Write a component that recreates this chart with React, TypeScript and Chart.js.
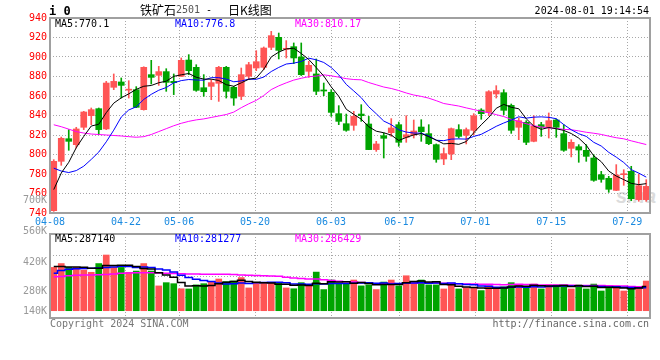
import React, { useEffect, useRef } from 'react';
import { Chart, registerables } from 'chart.js';
Chart.register(...registerables);

// ---------- data ----------
const tickIndex = [0, 10, 17, 27, 37, 46, 56, 66, 76];
const tickLabels = ['04-08', '04-22', '05-06', '05-20', '06-03', '06-17', '07-01', '07-15', '07-29'];
const priceTicks = [740, 760, 780, 800, 820, 840, 860, 880, 900, 920, 940];

const open = [742.4, 793.0, 816.2, 810.1, 827.9, 839.8, 847.0, 826.2, 868.9, 874.4,
  866.0, 866.5, 846.0, 881.9, 881.2, 885.0, 875.0, 880.2, 896.9, 889.4,
  868.5, 869.9, 873.0, 889.4, 868.9, 859.7, 880.2, 888.7, 889.4, 909.9,
  920.2, 907.9, 910.6, 900.0, 885.3, 882.6, 866.2, 863.8, 841.9, 831.6,
  829.9, 841.5, 831.3, 805.0, 819.3, 822.4, 830.6, 817.6, 820.0, 828.2,
  821.4, 810.1, 795.4, 800.5, 825.5, 819.7, 824.8, 845.6, 843.2, 862.1,
  863.4, 850.4, 827.9, 833.0, 813.5, 830.6, 827.9, 835.4, 821.4, 806.3,
  808.0, 804.3, 796.4, 779.3, 775.6, 763.2, 779.3, 782.7, 753.7, 753.7];
const high = [794.7, 817.9, 825.5, 827.9, 844.3, 847.7, 847.7, 875.0, 882.6, 878.5,
  875.7, 869.6, 890.0, 896.6, 890.4, 888.0, 882.6, 899.0, 902.4, 892.1,
  881.9, 876.8, 890.4, 890.4, 869.9, 888.7, 894.5, 906.5, 910.3, 926.3,
  924.6, 916.8, 914.4, 914.4, 895.6, 898.0, 873.3, 866.5, 850.1, 841.5,
  844.3, 851.1, 839.1, 813.5, 822.1, 836.8, 833.3, 839.8, 835.4, 835.7,
  830.6, 810.8, 806.7, 827.2, 830.6, 827.2, 841.9, 847.0, 865.5, 870.6,
  866.5, 851.8, 837.4, 834.7, 839.8, 833.0, 842.6, 836.4, 830.6, 815.2,
  810.1, 810.1, 799.8, 782.7, 777.6, 789.6, 784.4, 787.9, 780.0, 774.2];
const low = [741.7, 788.9, 804.3, 806.7, 825.5, 830.6, 820.3, 825.5, 866.5, 857.9,
  857.9, 848.0, 845.5, 872.3, 870.9, 864.8, 861.4, 880.0, 881.9, 864.8,
  859.7, 856.2, 854.5, 857.9, 850.4, 856.2, 876.8, 886.0, 887.0, 907.5,
  898.0, 899.0, 893.2, 881.0, 879.1, 861.4, 860.3, 839.1, 830.6, 823.8,
  824.8, 834.0, 805.0, 803.2, 796.4, 818.6, 808.4, 812.5, 816.9, 813.5,
  810.1, 792.0, 789.6, 794.7, 816.9, 810.8, 820.3, 836.1, 839.8, 857.9,
  840.9, 821.7, 815.2, 810.1, 813.0, 818.6, 816.9, 817.6, 803.2, 797.5,
  792.0, 793.0, 772.5, 771.5, 761.2, 763.0, 768.4, 752.6, 752.0, 752.0];
const close = [793.0, 816.6, 813.5, 826.2, 843.6, 846.0, 825.5, 873.3, 875.0, 870.9,
  866.2, 848.4, 889.4, 879.1, 885.0, 874.0, 873.7, 896.6, 886.0, 865.8,
  864.4, 873.7, 889.4, 864.8, 857.9, 881.9, 892.1, 895.2, 909.2, 921.9,
  906.8, 908.3, 899.0, 881.9, 891.5, 864.8, 865.1, 843.2, 834.0, 824.8,
  839.1, 839.8, 805.0, 810.8, 816.6, 827.2, 812.5, 820.3, 824.1, 823.4,
  811.1, 795.0, 800.9, 826.5, 818.6, 825.5, 839.8, 841.9, 864.4, 865.5,
  845.3, 824.8, 834.7, 812.5, 828.9, 827.9, 834.7, 827.9, 804.3, 812.5,
  804.6, 798.1, 773.5, 774.5, 764.3, 779.0, 779.6, 754.7, 768.0, 767.3];

const ma5 = [764.0, 781.0, 792.0, 807.0, 818.6, 829.2, 831.0, 842.9, 852.7, 858.1,
  862.2, 866.8, 870.0, 870.8, 873.6, 875.2, 880.2, 881.7, 883.1, 879.2,
  877.3, 877.3, 875.9, 871.6, 870.0, 873.5, 877.2, 878.4, 887.3, 900.1,
  905.0, 908.3, 909.0, 903.6, 897.5, 889.1, 880.5, 869.3, 859.7, 846.4,
  841.2, 836.2, 828.5, 823.9, 822.3, 819.9, 814.4, 817.5, 820.1, 821.5,
  818.3, 814.8, 810.9, 811.4, 810.4, 813.3, 822.3, 830.5, 838.0, 847.4,
  851.4, 848.4, 846.9, 836.6, 829.2, 825.8, 827.7, 826.4, 824.7, 821.5,
  816.8, 809.5, 798.6, 792.6, 783.0, 777.9, 774.2, 770.4, 769.1, 770.1];
const ma10 = [786.0, 783.0, 781.5, 783.5, 788.0, 795.0, 802.5, 813.0, 825.0, 838.4,
  845.7, 848.9, 856.5, 861.7, 865.9, 868.7, 873.5, 875.8, 876.9, 876.4,
  876.2, 878.8, 878.8, 877.3, 874.6, 875.4, 877.3, 877.1, 879.4, 885.1,
  889.3, 892.8, 893.7, 895.4, 898.8, 897.1, 894.4, 889.2, 881.7, 871.9,
  865.2, 858.3, 848.9, 841.8, 834.3, 830.6, 825.3, 823.0, 822.0, 821.9,
  819.1, 814.6, 814.2, 815.8, 816.0, 815.8, 818.5, 820.7, 824.7, 828.9,
  832.3, 835.3, 838.7, 837.3, 838.3, 838.6, 838.1, 836.7, 830.7, 825.4,
  821.3, 818.6, 812.5, 808.7, 802.2, 797.3, 791.8, 784.5, 780.9, 776.8];
const ma30 = [830.5, 828.5, 826.0, 823.5, 822.0, 821.0, 820.5, 820.0, 819.5, 819.0,
  818.3, 817.7, 818.3, 820.5, 823.5, 826.5, 829.5, 832.0, 834.0, 835.5,
  836.5, 838.0, 839.5, 841.0, 843.5, 848.0, 852.0, 855.5, 860.5, 866.6,
  870.4, 873.5, 876.3, 878.2, 879.8, 880.4, 881.7, 880.7, 879.3, 877.8,
  876.9, 876.6, 873.8, 871.5, 869.2, 867.7, 865.6, 863.1, 861.0, 859.6,
  857.8, 855.2, 852.3, 851.0, 849.7, 847.8, 846.1, 844.3, 842.8, 840.9,
  838.9, 836.1, 833.9, 831.6, 829.5, 828.3, 827.3, 826.8, 825.8, 825.4,
  824.2, 822.8, 821.8, 820.6, 818.8, 817.2, 816.1, 814.0, 812.1, 810.2];

// volume in thousands of lots
const volumeK = [381, 400, 381, 381, 368, 357, 400, 442, 381, 381,
  357, 363, 400, 363, 290, 306, 301, 276, 275, 295,
  301, 311, 324, 311, 314, 331, 280, 303, 303, 303,
  303, 280, 276, 306, 295, 358, 272, 319, 303, 303,
  319, 290, 295, 272, 309, 319, 290, 340, 303, 319,
  295, 295, 275, 298, 275, 281, 281, 267, 291, 275,
  286, 306, 293, 281, 299, 275, 295, 295, 295, 275,
  295, 275, 299, 265, 280, 290, 265, 281, 285, 314];
const volMa5 = [385, 385, 383, 383, 382, 377, 377, 390, 390, 392,
  392, 385, 376, 373, 355, 344, 332, 307, 290, 291,
  290, 292, 301, 308, 312, 318, 312, 308, 306, 304,
  298, 298, 293, 294, 292, 303, 301, 310, 309, 311,
  303, 307, 302, 296, 297, 297, 297, 306, 312, 314,
  309, 310, 297, 296, 288, 285, 282, 280, 279, 279,
  280, 285, 290, 288, 293, 291, 289, 289, 292, 287,
  291, 287, 288, 282, 283, 282, 280, 276, 280, 287];
const volMa10 = [352, 366, 372, 375, 376, 377, 378, 380, 383, 387,
  385, 381, 383, 381, 373, 368, 358, 342, 331, 323,
  317, 312, 304, 299, 301, 304, 302, 305, 307, 308,
  308, 305, 300, 300, 298, 301, 300, 302, 302, 302,
  303, 304, 306, 303, 304, 300, 302, 304, 304, 306,
  303, 304, 302, 304, 301, 297, 296, 289, 288, 283,
  282, 284, 285, 284, 286, 285, 287, 290, 290, 290,
  291, 288, 288, 287, 285, 286, 283, 282, 281, 281];
const volMa30 = [335, 336, 340, 343, 344, 344, 345, 346, 348, 352,
  354, 355, 355, 355, 353, 352, 351, 350, 349, 348,
  347, 347, 347, 347, 346, 344, 342, 341, 340, 339,
  337, 333, 329, 327, 324, 324, 320, 316, 313, 311,
  309, 307, 304, 301, 301, 302, 301, 303, 304, 305,
  305, 304, 303, 302, 301, 299, 299, 298, 298, 297,
  296, 297, 298, 297, 297, 294, 295, 294, 294, 293,
  292, 292, 292, 292, 291, 290, 289, 287, 286, 286];
const volAxisLabels = ['700K', '560K', '420K', '280K', '140K'];

// ---------- styles ----------
const RED = '#ff5555';
const GREEN = '#00a400';
const GRID = '#a8a8a8';
const XBLUE = '#1a8ae0';
const MONO = '"DejaVu Sans Mono", monospace';
const CJK = '"Noto Sans CJK SC", sans-serif';
const N = open.length;
const VOL_BASE = 168;

const colors = close.map((c, i) => (c >= open[i] ? RED : GREEN));
const pts = (arr: any[]) => arr.map((y, i) => ({ x: i + 0.5, y }));

const framePlugin = {
  id: 'frame',
  afterDraw(chart: any) {
    const { ctx, chartArea: a } = chart;
    ctx.save();
    ctx.strokeStyle = '#a0a0a0';
    ctx.lineWidth = 2;
    ctx.strokeRect(a.left, a.top, a.right - a.left, a.bottom - a.top);
    ctx.restore();
  },
};

const xAxis = (show: boolean) => ({
  type: 'linear',
  position: 'bottom',
  offset: false,
  min: 0,
  max: N,
  afterBuildTicks: (axis: any) => {
    axis.ticks = tickIndex.map((i) => ({ value: (i * N) / (N - 1) }));
  },
  ticks: {
    display: show,
    autoSkip: false,
    maxRotation: 0,
    color: XBLUE,
    font: { family: MONO, size: 10 },
    padding: 3,
    callback: (_v: any, i: number) => tickLabels[i],
  },
  grid: { color: GRID, lineWidth: 1, drawTicks: false, offset: false },
  border: { display: false, dash: [1, 2] },
  afterFit: (s: any) => {
    s.height = show ? 19 : 0;
  },
});

function lineDs(data: number[], color: string, yAxisID: string, width: number, stepped: any) {
  return {
    type: 'line',
    data: pts(data),
    borderColor: color,
    borderWidth: width,
    pointRadius: 0,
    tension: 0,
    stepped,
    yAxisID,
    order: 0,
  };
}

const txt = (s: any) => ({ position: 'absolute', whiteSpace: 'pre', fontFamily: MONO, fontSize: 10, lineHeight: '12px', ...s });

export default function App() {
  const priceRef = useRef<HTMLCanvasElement>(null);
  const volRef = useRef<HTMLCanvasElement>(null);

  useEffect(() => {
    const common = {
      responsive: false,
      animation: false,
      devicePixelRatio: 1,
      events: [],
      plugins: { legend: { display: false }, tooltip: { enabled: false } },
    };
    const priceChart = new Chart(priceRef.current as HTMLCanvasElement, {
      type: 'bar',
      data: {
        datasets: [
          lineDs(ma5, '#000000', 'y', 1, false),
          lineDs(ma10, '#0000ff', 'y', 1, false),
          lineDs(ma30, '#ff00ff', 'y', 1, false),
          {
            type: 'bar',
            data: pts(open.map((o, i) => [o, close[i]])),
            backgroundColor: colors,
            borderWidth: 0,
            barThickness: 6,
            grouped: false,
            minBarLength: 1,
            order: 1,
          },
          {
            type: 'bar',
            data: pts(low.map((l, i) => [l, high[i]])),
            backgroundColor: colors,
            borderWidth: 0,
            barThickness: 1,
            grouped: false,
            minBarLength: 1,
            order: 2,
          },
        ] as any,
      },
      options: {
        ...common,
        layout: { padding: { top: 18, right: 10, left: 0, bottom: 0 } },
        scales: {
          x: xAxis(true),
          y: {
            type: 'linear',
            position: 'left',
            min: 740,
            max: 940,
            afterBuildTicks: (axis: any) => {
              axis.ticks = priceTicks.map((v) => ({ value: v }));
            },
            ticks: { color: '#ff0000', font: { family: MONO, size: 10 }, padding: 3 },
            grid: { color: GRID, lineWidth: 1, drawTicks: false },
            border: { display: false, dash: [1, 2] },
            afterFit: (s: any) => {
              s.width = 50;
            },
          },
        },
      } as any,
      plugins: [framePlugin],
    });

    const volChart = new Chart(volRef.current as HTMLCanvasElement, {
      type: 'bar',
      data: {
        datasets: [
          lineDs(volMa5, '#000000', 'v', 1.5, 'middle'),
          lineDs(volMa10, '#0000ff', 'v', 1.5, 'middle'),
          lineDs(volMa30, '#ff00ff', 'v', 1.5, 'middle'),
          {
            type: 'bar',
            data: pts(volumeK),
            backgroundColor: colors,
            borderWidth: 0,
            barThickness: 6,
            grouped: false,
            base: VOL_BASE,
            yAxisID: 'v',
            order: 1,
          },
        ] as any,
      },
      options: {
        ...common,
        layout: { padding: { top: 8, right: 10, left: 0, bottom: 42 } },
        scales: {
          x: xAxis(false),
          g: {
            type: 'linear',
            position: 'left',
            min: 0,
            max: 4,
            afterBuildTicks: (axis: any) => {
              axis.ticks = [0, 1, 2, 3, 4].map((v) => ({ value: v }));
            },
            ticks: { display: false },
            grid: { color: GRID, lineWidth: 1, drawTicks: false },
            border: { display: false, dash: [1, 2] },
            afterFit: (s: any) => {
              s.width = 50;
            },
          },
          v: { type: 'linear', display: false, min: 132.1, max: 545.4 },
        },
      } as any,
      plugins: [framePlugin],
    });

    return () => {
      priceChart.destroy();
      volChart.destroy();
    };
  }, []);

  const volLabelY = [200.4, 231, 262, 291, 311];

  return (
    <div style={{ position: 'fixed', left: 0, top: 0, width: 660, height: 360, background: '#ffffff', overflow: 'hidden' }}>
      <div style={txt({ left: 616, top: 184, fontFamily: '"Liberation Sans", sans-serif', fontSize: 20, lineHeight: '24px', fontWeight: 'bold', fontStyle: 'italic', color: '#dcdcdc' }) as any}>sina</div>
      <canvas ref={priceRef} width={660} height={232} style={{ position: 'absolute', left: 0, top: 0, width: 660, height: 232 }} />
      <canvas ref={volRef} width={660} height={134} style={{ position: 'absolute', left: 0, top: 226, width: 660, height: 134 }} />

      <div style={txt({ left: 49, top: 4, fontSize: 12, lineHeight: '14px', fontWeight: 'bold', color: '#000' }) as any}>i 0</div>
      <div style={txt({ left: 140, top: 2, fontFamily: CJK, fontSize: 12, lineHeight: '16px', color: '#000' }) as any}>铁矿石</div>
      <div style={txt({ left: 176, top: 4, color: '#555' }) as any}>2501</div>
      <div style={txt({ left: 206, top: 4, color: '#000' }) as any}>-</div>
      <div style={txt({ left: 228, top: 2, fontFamily: CJK, fontSize: 12, lineHeight: '16px', color: '#000' }) as any}>日K线图</div>
      <div style={txt({ right: 11, top: 5, color: '#000' }) as any}>2024-08-01 19:14:54</div>

      <div style={txt({ left: 55, top: 17.5, color: '#000' }) as any}>MA5:770.1</div>
      <div style={txt({ left: 175, top: 17.5, color: '#0000ff' }) as any}>MA10:776.8</div>
      <div style={txt({ left: 295, top: 17.5, color: '#ff00ff' }) as any}>MA30:810.17</div>

      <div style={txt({ left: 55, top: 232.5, color: '#000' }) as any}>MA5:287140</div>
      <div style={txt({ left: 175, top: 232.5, color: '#0000ff' }) as any}>MA10:281277</div>
      <div style={txt({ left: 295, top: 232.5, color: '#ff00ff' }) as any}>MA30:286429</div>

      {volAxisLabels.map((s, i) => (
        <div key={s} style={txt({ left: 0, width: 47, textAlign: 'right', top: volLabelY[i] - 6, color: '#999' }) as any}>{s}</div>
      ))}

      <div style={txt({ left: 50, top: 317.7, color: '#777' }) as any}>Copyright 2024 SINA.COM</div>
      <div style={txt({ right: 11, top: 317.7, color: '#666' }) as any}>http://finance.sina.com.cn</div>
    </div>
  );
}
